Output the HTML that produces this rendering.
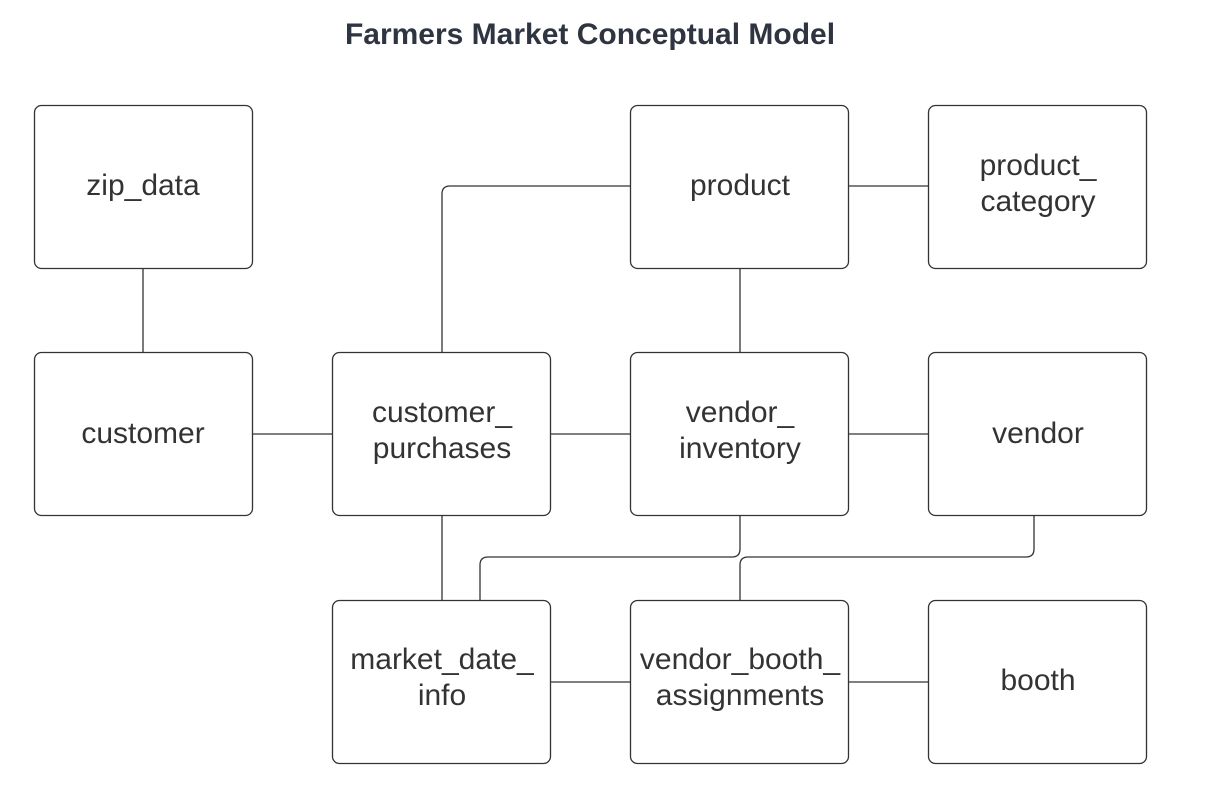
<!DOCTYPE html>
<html><head><meta charset="utf-8"><style>
html,body{margin:0;padding:0;background:#fff;width:1216px;height:790px;overflow:hidden}
</style></head><body>
<svg width="1216" height="790" viewBox="0 0 1216 790" xmlns="http://www.w3.org/2000/svg">
<text x="590" y="44" text-anchor="middle" font-family="Liberation Sans, sans-serif" font-weight="bold" font-size="30" fill="#2e3440">Farmers Market Conceptual Model</text>
<g fill="none" stroke="#333" stroke-width="1.3">
<line x1="143" y1="268" x2="143" y2="352"/>
<line x1="252" y1="434" x2="332" y2="434"/>
<line x1="550" y1="434" x2="630" y2="434"/>
<line x1="848" y1="434" x2="928" y2="434"/>
<line x1="848" y1="186" x2="928" y2="186"/>
<line x1="740" y1="268" x2="740" y2="352"/>
<path d="M630 186 H450 Q442 186 442 194 V352"/>
<line x1="442" y1="515" x2="442" y2="600"/>
<path d="M740 515 V549 Q740 557 732 557 H488 Q480 557 480 565 V600"/>
<path d="M1034 515 V549 Q1034 557 1026 557 H748 Q740 557 740 565 V600"/>
<line x1="550" y1="682" x2="630" y2="682"/>
<line x1="848" y1="682" x2="928" y2="682"/>
</g>
<g fill="#fff" stroke="#333" stroke-width="1.3">
<rect x="34.5" y="105.5" width="218" height="163" rx="7"/>
<rect x="630.5" y="105.5" width="218" height="163" rx="7"/>
<rect x="928.5" y="105.5" width="218" height="163" rx="7"/>
<rect x="34.5" y="352.5" width="218" height="163" rx="7"/>
<rect x="332.5" y="352.5" width="218" height="163" rx="7"/>
<rect x="630.5" y="352.5" width="218" height="163" rx="7"/>
<rect x="928.5" y="352.5" width="218" height="163" rx="7"/>
<rect x="332.5" y="600.5" width="218" height="163" rx="7"/>
<rect x="630.5" y="600.5" width="218" height="163" rx="7"/>
<rect x="928.5" y="600.5" width="218" height="163" rx="7"/>
</g>
<g font-family="Liberation Sans, sans-serif" font-size="30" fill="#333" text-anchor="middle">
<text x="143" y="195">zip_data</text>
<text x="740" y="195">product</text>
<text x="1038" y="175">product_</text>
<text x="1038" y="211">category</text>
<text x="143" y="443">customer</text>
<text x="442" y="422">customer_</text>
<text x="442" y="458">purchases</text>
<text x="740" y="422">vendor_</text>
<text x="740" y="458">inventory</text>
<text x="1038" y="443">vendor</text>
<text x="442" y="669">market_date_</text>
<text x="442" y="705">info</text>
<text x="740" y="669">vendor_booth_</text>
<text x="740" y="705">assignments</text>
<text x="1038" y="690">booth</text>
</g>
</svg>
</body></html>
